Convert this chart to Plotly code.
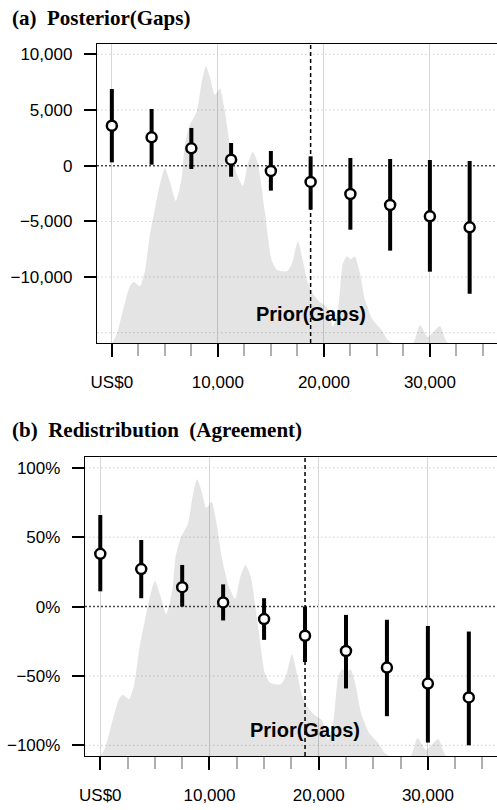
import plotly.graph_objects as go

# ---- data ----
x_pos = [0, 3750, 7500, 11250, 15000, 18750, 22500, 26250, 30000, 33750]

gaps_est = [3590, 2550, 1560, 540, -480, -1460, -2540, -3530, -4550, -5540]
gaps_lo = [300, 90, -300, -990, -2240, -3950, -5750, -7630, -9520, -11500]
gaps_hi = [6890, 5090, 3390, 2040, 1320, 840, 690, 600, 510, 420]

red_est = [38, 27, 14, 3, -9, -21, -32, -44, -55.5, -65.5]
red_lo = [11, 6, 0, -10, -24, -40, -59, -79, -98, -100]
red_hi = [66, 48, 30, 16, 6, 0, -6, -9.5, -14, -18]

prior_mean = 18750
prior_label = "Prior(Gaps)"

# density of the prior gaps (relative height, peak ~0.93)
dens_x = [-300, 0, 470, 1130, 1700, 2080, 2640, 3110, 3580, 4060, 4530, 5000, 5470,
          6040, 6600, 6890, 7360, 8020, 8490, 8870, 9250, 9720, 10190, 10660, 11130,
          11790, 12360, 12830, 13300, 13770, 14430, 15090, 15570, 16510, 16980, 17550,
          18020, 18490, 18960, 19620, 20280, 20850, 21320, 21790, 22170, 22550, 22920,
          23400, 23870, 24620, 25470, 26040, 26510, 28400, 29060, 29810, 30940, 31700,
          36500]
dens_y = [0, 0.0, 0.03, 0.12, 0.19, 0.205, 0.19, 0.24, 0.36, 0.45, 0.53, 0.585, 0.54,
          0.475, 0.555, 0.665, 0.73, 0.776, 0.876, 0.926, 0.89, 0.83, 0.85, 0.776, 0.665,
          0.565, 0.525, 0.6, 0.64, 0.6, 0.44, 0.275, 0.245, 0.24, 0.265, 0.34,
          0.275, 0.2, 0.165, 0.137, 0.12, 0.055, 0.107, 0.265, 0.29, 0.28, 0.29,
          0.234, 0.145, 0.077, 0.043, 0.01, 0, 0, 0.06, 0.02, 0.057, 0,
          0]

x_tickvals = [0, 10000, 20000, 30000]
x_ticktext = ["US$0", "10,000", "20,000", "30,000"]

ya_tickvals = [-10000, -5000, 0, 5000, 10000]
ya_ticktext = ["\u221210,000", "\u22125,000", "0", "5,000", "10,000"]
ya_grid = [-15000, -10000, -5000, 5000, 10000]

yb_tickvals = [-100, -50, 0, 50, 100]
yb_ticktext = ["\u2212100%", "\u221250%", "0%", "50%", "100%"]
yb_grid = [-100, -50, 50, 100]

title_a = "(a)\u00a0\u00a0Posterior(Gaps)"
title_b = "(b)\u00a0\u00a0Redistribution\u00a0\u00a0(Agreement)"

# ---- layout geometry ----
W, H = 497, 810
xr = [-1400, 36330]
ya_range = [-15925, 10930]
yb_range = [-107.7, 107.8]

fig = go.Figure()


def add_panel(xa, ya, yrange, est, lo, hi):
    base = yrange[0]
    span = yrange[1] - yrange[0]
    px = list(dens_x) + [dens_x[-1], dens_x[0]]
    py = [base + v * span for v in dens_y] + [base, base]
    fig.add_trace(go.Scatter(
        x=px, y=py, xaxis=xa, yaxis=ya, mode="lines", fill="toself",
        fillcolor="rgba(0,0,0,0.105)", line=dict(width=0, shape="spline", smoothing=0.6),
        hoverinfo="skip", showlegend=False))
    fig.add_trace(go.Scatter(
        x=x_pos, y=est, xaxis=xa, yaxis=ya, mode="markers",
        marker=dict(symbol="circle", size=10, color="white",
                    line=dict(color="black", width=2.5)),
        error_y=dict(type="data", symmetric=False,
                     array=[h - e for h, e in zip(hi, est)],
                     arrayminus=[e - l for e, l in zip(est, lo)],
                     thickness=4, width=0, color="black"),
        showlegend=False))


add_panel("x", "y", ya_range, gaps_est, gaps_lo, gaps_hi)
add_panel("x2", "y2", yb_range, red_est, red_lo, red_hi)

tickfont = dict(family="Liberation Sans", size=17, color="black")


def xaxis_cfg(domain, anchor):
    return dict(
        domain=domain, anchor=anchor, range=xr, tickmode="array",
        tickvals=x_tickvals, ticktext=x_ticktext, ticks="outside", ticklen=13,
        tickwidth=1.5, tickcolor="black", showgrid=True, gridcolor="#d6d6d6",
        gridwidth=1, showline=True, linecolor="black", linewidth=1.4, mirror=True,
        zeroline=False, tickfont=tickfont, ticklabelstandoff=10, automargin=False,
        minor=dict(dtick=2500, tick0=0, ticks="outside", ticklen=12,
                   tickcolor="#b0b0b0", tickwidth=1.5, showgrid=False),
        fixedrange=True)


def yaxis_cfg(domain, anchor, rng, tv, tt):
    return dict(
        domain=domain, anchor=anchor, range=rng, tickmode="array",
        tickvals=tv, ticktext=tt, ticks="outside", ticklen=12, tickwidth=1.5,
        tickcolor="black", showgrid=False, showline=True, linecolor="black",
        linewidth=1.4, mirror=True, zeroline=False, tickfont=tickfont,
        ticklabelstandoff=8, automargin=False, fixedrange=True)


fig.update_layout(
    width=W, height=H, margin=dict(l=0, r=0, t=0, b=0),
    paper_bgcolor="white", plot_bgcolor="white", showlegend=False,
    xaxis=xaxis_cfg([97 / W, 1], "y"),
    yaxis=yaxis_cfg([1 - 343 / H, 1 - 44 / H], "x", ya_range, ya_tickvals, ya_ticktext),
    xaxis2=xaxis_cfg([85 / W, 1], "y2"),
    yaxis2=yaxis_cfg([1 - 756 / H, 1 - 457 / H], "x2", yb_range, yb_tickvals, yb_ticktext),
)

shapes = []
for xa, ya, grid in [("x", "y", ya_grid), ("x2", "y2", yb_grid)]:
    for g in grid:
        shapes.append(dict(type="line", xref=xa + " domain", yref=ya, x0=0, x1=1,
                           y0=g, y1=g, layer="below",
                           line=dict(color="#cfcfcf", width=1, dash="1.5px,2.5px")))
    shapes.append(dict(type="line", xref=xa + " domain", yref=ya, x0=0, x1=1,
                       y0=0, y1=0, layer="below",
                       line=dict(color="#4a4a4a", width=1.5, dash="2px,2px")))
    shapes.append(dict(type="line", xref=xa, yref=ya + " domain", x0=prior_mean,
                       x1=prior_mean, y0=0, y1=1, layer="below",
                       line=dict(color="black", width=1.5, dash="4px,3px")))
fig.update_layout(shapes=shapes)

lab_font = dict(family="Liberation Sans", size=20, color="black", weight="bold")
title_font = dict(family="Liberation Serif", size=21, color="black", weight="bold")
fig.update_layout(annotations=[
    dict(x=prior_mean, y=-13300, xref="x", yref="y", text=prior_label,
         showarrow=False, font=lab_font, xanchor="center", yanchor="middle"),
    dict(x=prior_mean, y=-89, xref="x2", yref="y2", text=prior_label,
         showarrow=False, font=lab_font, xanchor="center", yanchor="middle"),
    dict(x=10 / W, y=1 - 18 / H, xref="paper", yref="paper", text=title_a,
         showarrow=False, font=title_font, xanchor="left", yanchor="middle"),
    dict(x=10 / W, y=1 - 430 / H, xref="paper", yref="paper", text=title_b,
         showarrow=False, font=title_font, xanchor="left", yanchor="middle"),
])

fig.write_html("out.html")
